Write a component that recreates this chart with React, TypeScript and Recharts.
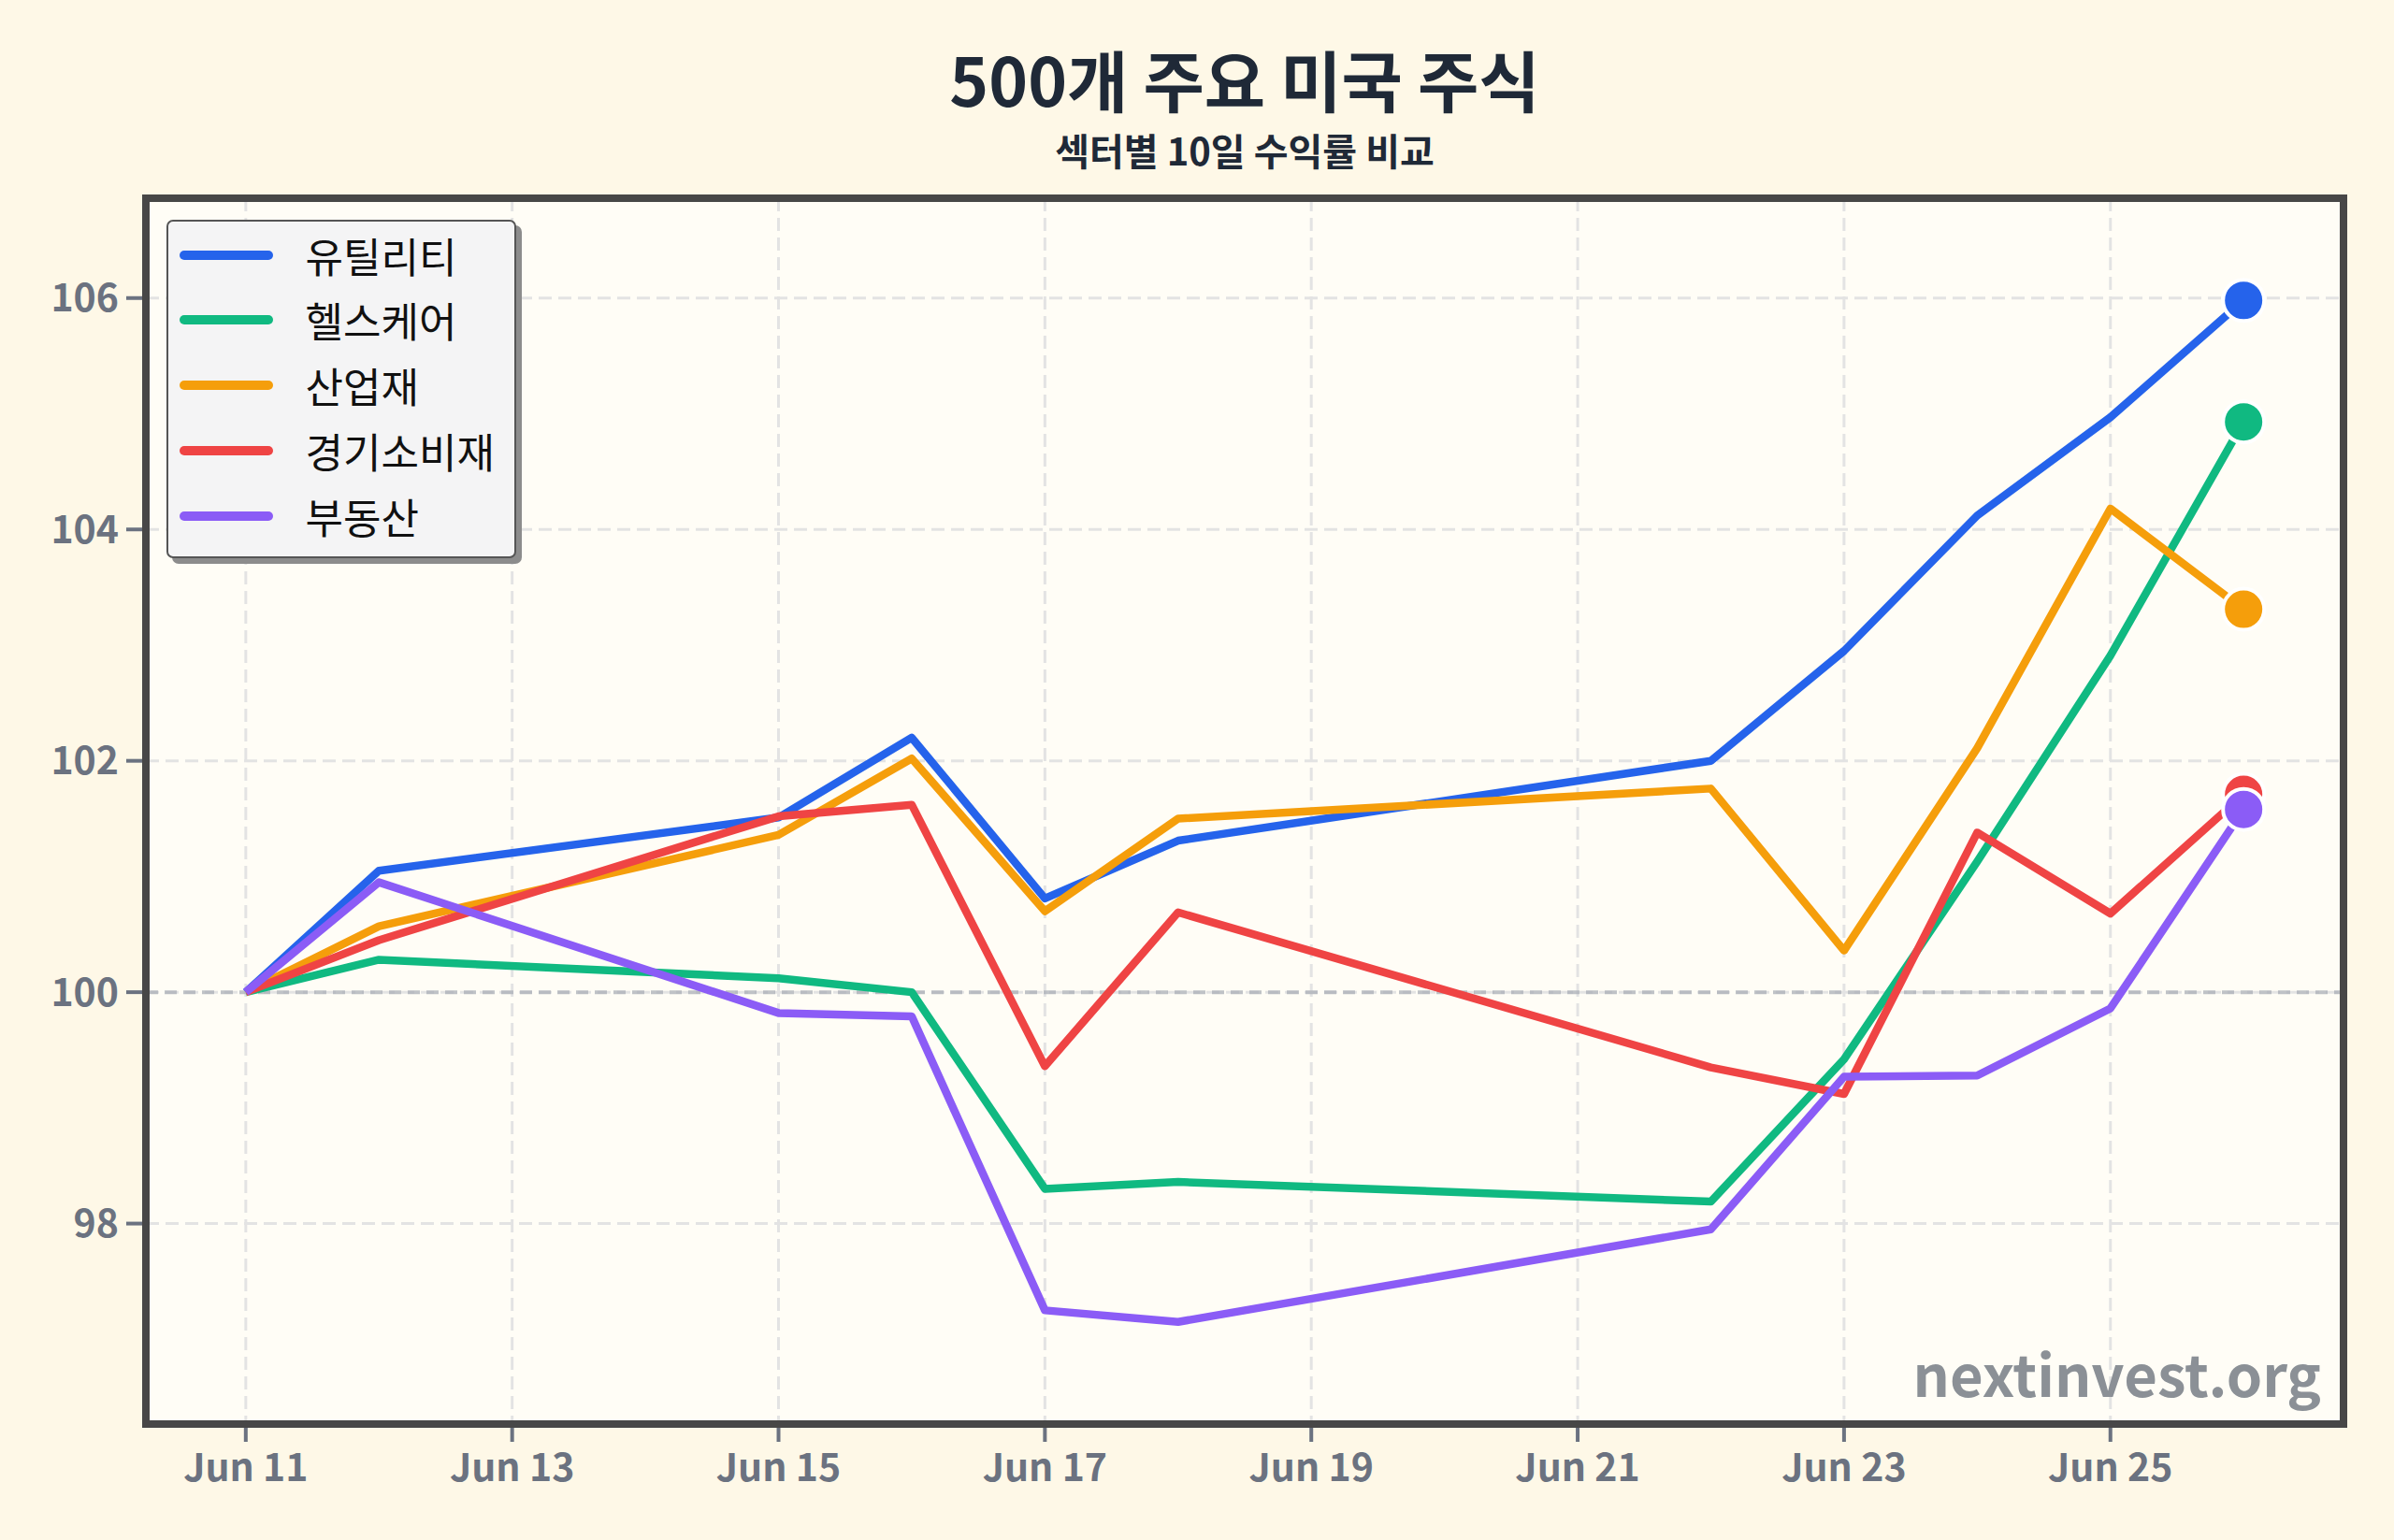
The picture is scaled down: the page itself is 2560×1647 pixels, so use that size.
import React from "react";
import {
  CartesianGrid,
  Line,
  LineChart,
  ReferenceLine,
  XAxis,
  YAxis,
} from "recharts";

// Trading days in June
const days = [11, 12, 15, 16, 17, 18, 22, 23, 24, 25, 26];

// Indexed price (start = 100) per sector
const utilities = [100, 101.05, 101.51, 102.2, 100.81, 101.31, 102.0, 102.95, 104.12, 104.97, 105.98];
const healthcare = [100, 100.28, 100.12, 100.0, 98.3, 98.36, 98.19, 99.42, 101.13, 102.91, 104.93];
const industrials = [100, 100.57, 101.36, 102.02, 100.7, 101.5, 101.76, 100.36, 102.11, 104.18, 103.31];
const consumerDisc = [100, 100.45, 101.52, 101.62, 99.36, 100.69, 99.35, 99.12, 101.38, 100.68, 101.71];
const realEstate = [100, 100.95, 99.82, 99.79, 97.25, 97.15, 97.95, 99.27, 99.28, 99.86, 101.58];

const sectorNames = ["유틸리티", "헬스케어", "산업재", "경기소비재", "부동산"];
const sectorColors = ["#2563eb", "#10b981", "#f59e0b", "#ef4444", "#8b5cf6"];
const sectorValues = [utilities, healthcare, industrials, consumerDisc, realEstate];

const xTicks = [11, 13, 15, 17, 19, 21, 23, 25];
const yTicks = [98, 100, 102, 104, 106];

const FONT = '"Noto Sans CJK KR", "Noto Sans", sans-serif';

const data = days.map((day, i) => {
  const row: Record<string, number> = { day };
  sectorNames.forEach((name, k) => {
    row[name] = sectorValues[k][i];
  });
  return row;
});

// 10% headroom on y, 5% on x
const allValues = sectorValues.flat();
const yMin = Math.min(...allValues);
const yMax = Math.max(...allValues);
const yPad = (yMax - yMin) * 0.1;
const xPad = (days[days.length - 1] - days[0]) * 0.05;

const endDot = (color: string) => (props: any) => {
  const { cx, cy, index } = props;
  if (index !== days.length - 1) return <g key={`d-${index}`} />;
  return (
    <circle
      key={`d-${index}`}
      cx={cx}
      cy={cy}
      r={22}
      fill={color}
      stroke="#ffffff"
      strokeWidth={4}
    />
  );
};

const LegendBox = () => (
  <div
    style={{
      position: "absolute",
      left: 178,
      top: 235,
      width: 374,
      height: 362,
      boxSizing: "border-box",
      border: "2.5px solid #555555",
      borderRadius: 7,
      background: "#f4f4f5",
      boxShadow: "6px 6px 0 #8c8c8c",
      fontFamily: FONT,
    }}
  >
    {sectorNames.map((name, k) => (
      <div
        key={name}
        style={{
          position: "absolute",
          left: 11.5,
          top: 0.5 + k * 69.8,
          height: 70,
          display: "flex",
          alignItems: "center",
        }}
      >
        <div
          style={{
            width: 100,
            height: 10,
            borderRadius: 5,
            background: sectorColors[k],
          }}
        />
        <span
          style={{
            marginLeft: 35,
            fontSize: 44,
            color: "#111111",
            lineHeight: 1,
          }}
        >
          {name}
        </span>
      </div>
    ))}
  </div>
);

const tickStyle = { fill: "#6b7280", fontSize: 41, fontWeight: 700, fontFamily: FONT };

const App: React.FC = () => {
  return (
    <div
      style={{
        position: "absolute",
        left: 0,
        top: 0,
        width: 2560,
        height: 1647,
        background: "#fef8e7",
        overflow: "hidden",
      }}
    >
      <LineChart
        width={2560}
        height={1647}
        data={data}
        margin={{ top: 212, right: 54, bottom: 24, left: 16 }}
      >
        <CartesianGrid
          stroke="#e3e3e3"
          strokeWidth={3}
          strokeDasharray="14 7"
          fill="#fffdf6"
        />
        <XAxis
          dataKey="day"
          type="number"
          domain={[days[0] - xPad, days[days.length - 1] + xPad]}
          ticks={xTicks}
          tickFormatter={(d) => `Jun ${d}`}
          height={100}
          axisLine={false}
          tickSize={19}
          tickMargin={13}
          tickLine={{ stroke: "#6b7280", strokeWidth: 4 }}
          tick={tickStyle}
          allowDataOverflow
        />
        <YAxis
          type="number"
          domain={[yMin - yPad, yMax + yPad]}
          ticks={yTicks}
          width={140}
          axisLine={false}
          tickSize={21}
          tickMargin={8}
          tickLine={{ stroke: "#6b7280", strokeWidth: 4 }}
          tick={tickStyle}
          allowDataOverflow
        />
        <ReferenceLine
          y={100}
          stroke="#a9aeb6"
          strokeWidth={4}
          strokeDasharray="13 7"
          strokeOpacity={0.75}
        />
        {sectorNames.map((name, k) => (
          <Line
            key={name}
            type="linear"
            dataKey={name}
            stroke={sectorColors[k]}
            strokeWidth={8.5}
            strokeLinejoin="round"
            dot={endDot(sectorColors[k])}
            activeDot={false}
            isAnimationActive={false}
          />
        ))}
      </LineChart>

      {/* axes frame */}
      <div
        style={{
          position: "absolute",
          left: 152,
          top: 208,
          width: 2358,
          height: 1319,
          boxSizing: "border-box",
          border: "8px solid #474747",
          pointerEvents: "none",
        }}
      />

      <svg
        width={2560}
        height={1647}
        style={{ position: "absolute", left: 0, top: 0, pointerEvents: "none" }}
      >
        <text
          x={1331}
          y={114}
          textAnchor="middle"
          fontFamily={FONT}
          fontSize={71}
          fontWeight={700}
          fill="#1f2937"
        >
          500개 주요 미국 주식
        </text>
        <text
          x={1331}
          y={177}
          textAnchor="middle"
          fontFamily={FONT}
          fontSize={40}
          fontWeight={700}
          fill="#1f2937"
        >
          섹터별 10일 수익률 비교
        </text>
        <text
          x={2482}
          y={1494}
          textAnchor="end"
          fontFamily={FONT}
          fontSize={61.5}
          fontWeight={700}
          fill="#8b9096"
        >
          nextinvest.org
        </text>
      </svg>

      <LegendBox />
    </div>
  );
};

export default App;
